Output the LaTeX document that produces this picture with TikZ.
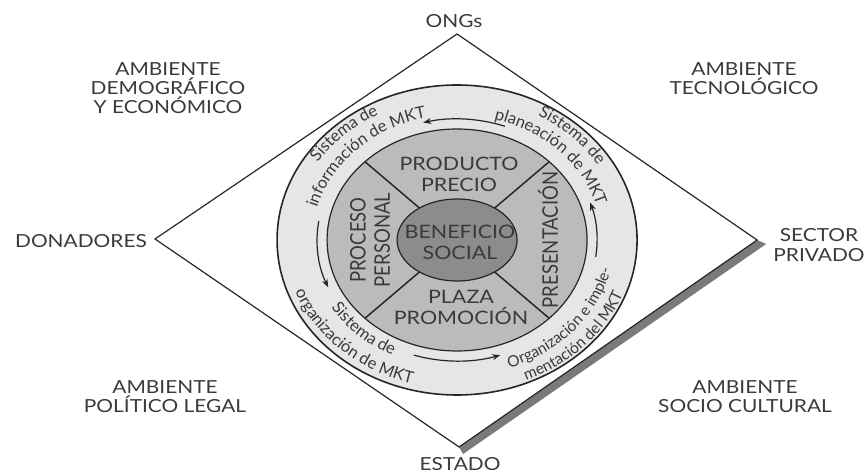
\documentclass[tikz,border=0pt]{standalone}
\usepackage{fontspec}
\setmainfont{Lato}
\usetikzlibrary{arrows.meta,decorations.text,calc}
\definecolor{ringout}{HTML}{E6E6E6}
\definecolor{ringmid}{HTML}{BBBBBB}
\definecolor{core}{HTML}{8C8C8C}
\definecolor{ink}{HTML}{262626}
\definecolor{txt}{HTML}{3A3A3A}
\definecolor{bandgray}{HTML}{7A7A7A}
\begin{document}
\begin{tikzpicture}[x=0.86207pt, y=1pt, xscale=1.16,
  every node/.append style={transform shape},
  lbl/.style={font=\fontsize{18}{19}\selectfont, text=txt, align=center, inner sep=0pt},
  big/.style={font=\fontsize{18.5}{21}\selectfont, text=txt, align=center, inner sep=0pt},
  cyc/.style={draw=ink, line width=1.2pt, -{Stealth[length=8pt,width=6pt]}},
  edgeline/.style={draw=ink, line width=1.2pt},
  arctext/.style={decorate, decoration={text along path, text align=center, text color=txt, text={|\fontsize{16.5}{16.5}\selectfont|#1}}},
  arctextsm/.style={decorate, decoration={text along path, text align=center, text color=txt, text={|\fontsize{15.5}{15.5}\selectfont|#1}}},
]
\useasboundingbox (0,0) rectangle (867,-470);
\coordinate (C) at (457,-240);
\coordinate (T) at (457,-34);
\coordinate (L) at (155,-239);
\coordinate (R) at (757,-240);
\coordinate (B) at (459,-447);
% shadow band and diamond
\fill[bandgray] (R) -- ($(R)+(9,-4)$) -- ($(B)+(4,-7)$) -- (B) -- cycle;
\draw[edgeline, line join=miter] (T) -- (R) -- (B) -- (L) -- cycle;
% rings
\draw[ink, line width=1.6pt, fill=ringout] (C) ellipse [x radius=180, y radius=155];
\draw[ink, line width=1.2pt, fill=ringmid] (C) ellipse [x radius=130, y radius=111];
\begin{scope}
\clip (C) ellipse [x radius=130, y radius=111];
\draw[edgeline, line width=1.5pt] ($(C)+(-160,136)$) -- ($(C)+(160,-136)$);
\draw[edgeline, line width=1.5pt] ($(C)+(160,136)$) -- ($(C)+(-160,-136)$);
\end{scope}
\draw[ink, line width=1.2pt, fill=core] (C) ellipse [x radius=60, y radius=41];
% cycle arrows
\draw[cyc] ($(C)+(70:140 and 121)$) arc[start angle=70, end angle=104, x radius=140, y radius=121];
\draw[cyc] ($(C)+(171:140 and 121)$) arc[start angle=171, end angle=203, x radius=140, y radius=121];
\draw[cyc] ($(C)+(252:140 and 121)$) arc[start angle=252, end angle=288, x radius=140, y radius=121];
\draw[cyc] ($(C)+(-8:140 and 121)$) arc[start angle=-8, end angle=18, x radius=140, y radius=121];
% curved texts
\path[arctext={Sistema de}] ($(C)+(185:165.6 and 142.6)$) arc[start angle=185, end angle=85, x radius=165.6, y radius=142.6];
\path[arctext={información de MKT}] ($(C)+(185:144.9 and 124.8)$) arc[start angle=185, end angle=85, x radius=144.9, y radius=124.8];
\path[arctext={Sistema de}] ($(C)+(94:165.6 and 142.6)$) arc[start angle=94, end angle=-6, x radius=165.6, y radius=142.6];
\path[arctext={planeación de MKT}] ($(C)+(94:144.9 and 124.8)$) arc[start angle=94, end angle=-6, x radius=144.9, y radius=124.8];
\path[arctext={Sistema de}] ($(C)+(176:148.5 and 127.9)$) arc[start angle=176, end angle=276, x radius=148.5, y radius=127.9];
\path[arctext={organización de MKT}] ($(C)+(176:172.8 and 148.8)$) arc[start angle=176, end angle=276, x radius=172.8, y radius=148.8];
\path[arctextsm={Organización e imple-}] ($(C)+(270:157.5 and 135.6)$) arc[start angle=270, end angle=370, x radius=157.5, y radius=135.6];
\path[arctextsm={mentación del MKT}] ($(C)+(268:177.3 and 152.7)$) arc[start angle=268, end angle=368, x radius=177.3, y radius=152.7];
% center texts
\node[big] (prod) at (459,-174) {PRODUCTO\\PRECIO};
\node[big] (ben) at (460,-242) {BENEFICIO\\SOCIAL};
\node[big] (plaza) at (461,-307) {PLAZA\\PROMOCIÓN};
\node[big, rotate=90] (proc) at (370,-240) {PROCESO\\PERSONAL};
\node[big, rotate=90] (pres) at (548,-240) {PRESENTACIÓN};
% outer labels
\node[lbl] (ongs) at (454,-21) {ONGs};
\node[lbl] (estado) at (460,-464) {ESTADO};
\node[lbl] (don) at (81,-241) {DONADORES};
\node[lbl] (priv) at (819,-245) {SECTOR\\[1pt]PRIVADO};
\node[lbl] (dem) at (168,-88) {AMBIENTE\\DEMOGRÁFICO\\Y ECONÓMICO};
\node[lbl] (tec) at (744,-79) {AMBIENTE\\TECNOLÓGICO};
\node[lbl] (pol) at (165,-397) {AMBIENTE\\POLÍTICO LEGAL};
\node[lbl] (soc) at (745,-397) {AMBIENTE\\SOCIO CULTURAL};
\end{tikzpicture}
\end{document}
